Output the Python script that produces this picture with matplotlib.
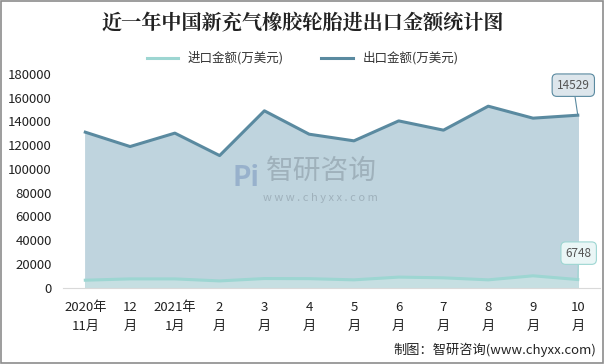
import matplotlib.pyplot as plt
from matplotlib.patches import Rectangle

plt.rcParams['font.family'] = ['Noto Sans CJK SC', 'DejaVu Sans']

# 月份标签
months = ['2020年\n11月', '12\n月', '2021年\n1月', '2\n月', '3\n月', '4\n月',
          '5\n月', '6\n月', '7\n月', '8\n月', '9\n月', '10\n月']
# 出口、进口金额（万美元）
export_vals = [130900, 118800, 130100, 111200, 148900, 129200,
               123600, 140400, 132600, 152800, 142700, 145200]
import_vals = [6200, 7300, 7300, 5600, 7600, 7500,
               6500, 8800, 8200, 6500, 9900, 6748]
export_label = '14529'
import_label = '6748'
yticks = [0, 20000, 40000, 60000, 80000, 100000, 120000, 140000, 160000, 180000]

exp_line = '#5a8aa0'
exp_fill = '#bfd4de'
imp_line = '#9dd6d2'
imp_fill = '#c6dfe2'

fig = plt.figure(figsize=(6.05, 3.64), dpi=100)
ax = fig.add_axes([0.104, 0.21, 0.888, 0.587])

x = list(range(len(months)))
ax.fill_between(x, export_vals, color=exp_fill, zorder=1)
ax.plot(x, export_vals, color=exp_line, lw=2.2, zorder=3, label='出口金额(万美元)')
ax.fill_between(x, import_vals, color=imp_fill, zorder=2)
ax.plot(x, import_vals, color=imp_line, lw=2.2, zorder=3, label='进口金额(万美元)')

ax.set_xlim(-0.5, 11.5)
ax.set_ylim(0, 180000)
ax.set_yticks(yticks)
ax.set_yticklabels([str(v) for v in yticks], fontsize=9.5, color='#222222')
ax.set_xticks(x)
ax.set_xticklabels(months, fontsize=9.5, color='#222222', linespacing=1.5)
ax.tick_params(length=0, pad=8)
ax.tick_params(axis='x', pad=10)
for s in ['top', 'right', 'left']:
    ax.spines[s].set_visible(False)
ax.spines['bottom'].set_color('#d9d9d9')

# 数据标签
ax.annotate(export_label, xy=(x[-1], export_vals[-1]), xytext=(x[-1] - 0.1, 170500),
            ha='center', va='center', fontsize=8.5, color='#555555',
            bbox=dict(boxstyle='round,pad=0.4', fc='#dde6ec', ec=exp_line, lw=0.8),
            arrowprops=dict(arrowstyle='-', color=exp_line, lw=0.8,
                            shrinkA=0, shrinkB=0), zorder=5)
ax.annotate(import_label, xy=(x[-1], import_vals[-1]), xytext=(x[-1] + 0.02, 29000),
            ha='center', va='center', fontsize=8.5, color='#555555',
            bbox=dict(boxstyle='round,pad=0.4', fc='#eaf6f6', ec=imp_line, lw=0.8),
            arrowprops=dict(arrowstyle='-', color=imp_line, lw=0.8,
                            shrinkA=0, shrinkB=0), zorder=5)

# 图例
h, l = ax.get_legend_handles_labels()
fig.legend(h[::-1], l[::-1], loc='center', bbox_to_anchor=(0.5, 0.84), ncol=2,
           frameon=False, fontsize=9, handlelength=2.5, columnspacing=3,
           labelcolor='#333333')

fig.text(0.5, 0.935, '近一年中国新充气橡胶轮胎进出口金额统计图', ha='center', va='center',
         fontsize=14.5, fontweight='bold', color='#222222',
         family=['Noto Serif CJK SC', 'Noto Sans CJK SC', 'DejaVu Sans'])

# 水印
fig.text(0.44, 0.53, '智研咨询', ha='left', va='center', fontsize=20,
         color='#8a9aa5', alpha=0.6)
fig.text(0.435, 0.455, 'w w w . c h y x x . c o m', ha='left', va='center',
         fontsize=8, color='#8a9aa5', alpha=0.6)
fig.text(0.385, 0.51, 'Pi', ha='left', va='center', fontsize=20, fontweight='bold',
         color='#7f9bc0', alpha=0.6)

fig.text(0.985, 0.04, '制图：智研咨询(www.chyxx.com)', ha='right', va='center',
         fontsize=9.5, color='#222222')

fig.patches.append(Rectangle((0.002, 0.002), 0.995, 0.995, transform=fig.transFigure,
                             fill=False, ec='#8c8c8c', lw=1.2))

fig.savefig('out.png', dpi=100)
